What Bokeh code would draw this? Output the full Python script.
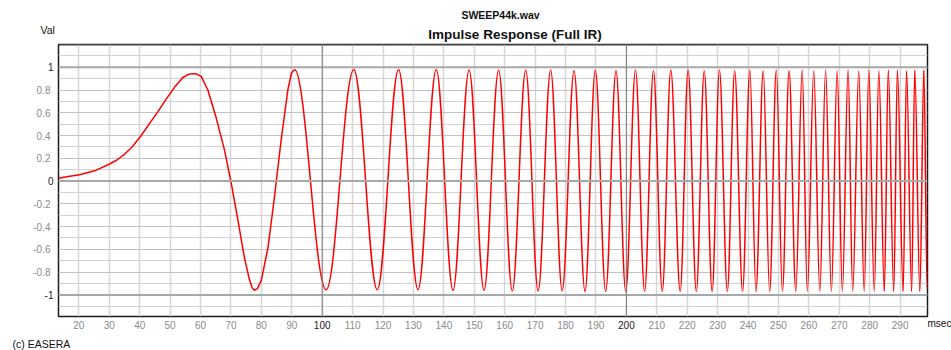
from bokeh.plotting import figure
from bokeh.models import Range1d, FixedTicker, Span, Label, LinearAxis
from bokeh.embed import file_html
from bokeh.resources import INLINE

# --- data (msec, value) ---
# slow onset, read densely
early_t = [13.3, 16.5, 20.2, 25.2, 30.1, 32.5, 35.0, 37.5, 40.5, 43.2, 46.0, 48.7, 51.5,
           54.2, 56.0, 57.2, 58.7, 60.2, 62.4, 65.1, 67.9, 70.1, 72.3, 74.4, 76.1, 77.0,
           77.7, 78.7, 80.0, 82.2, 84.3, 86.5, 88.7, 89.9]
early_v = [0.025, 0.04, 0.056, 0.09, 0.15, 0.185, 0.235, 0.30, 0.40, 0.505, 0.61, 0.72,
           0.826, 0.91, 0.937, 0.944, 0.94, 0.92, 0.80, 0.56, 0.27, -0.02, -0.345, -0.67,
           -0.87, -0.94, -0.96, -0.945, -0.87, -0.58, -0.14, 0.36, 0.80, 0.95]
# later cycles: positive peaks and negative troughs
peak_t = [90.9, 110.4, 125.1, 137.5, 148.3, 158.0, 166.9, 175.1, 182.8, 189.8, 196.6,
          203.0, 208.9, 214.6, 220.3, 225.6, 230.6, 235.6, 240.6, 245.0, 249.3, 253.5,
          257.8, 261.6, 265.5, 269.3, 272.9, 276.4, 279.7, 283.0, 286.1, 289.1, 292.1,
          294.8, 297.8]
peak_v = [0.98, 0.98, 0.98, 0.98, 0.975, 0.975, 0.975, 0.975, 0.97, 0.975, 0.97,
          0.975, 0.97, 0.975, 0.975, 0.97, 0.975, 0.97, 0.975, 0.97, 0.975, 0.97,
          0.975, 0.97, 0.975, 0.97, 0.975, 0.97, 0.975, 0.97, 0.975, 0.975, 0.97,
          0.975, 0.975]
trough_t = [101.3, 118.1, 131.5, 143.0, 153.2, 162.5, 171.0, 178.9, 186.4, 193.2,
            199.8, 206.0, 211.8, 217.7, 223.0, 228.2, 233.2, 238.2, 242.6, 247.1, 251.3,
            255.7, 259.5, 263.6, 267.4, 271.0, 274.4, 278.2, 281.5, 284.8, 287.9, 291.0,
            293.8, 296.5, 298.9]
trough_v = [-0.955, -0.955, -0.955, -0.96, -0.96, -0.965, -0.965, -0.965, -0.97, -0.97,
            -0.97, -0.97, -0.97, -0.97, -0.97, -0.97, -0.97, -0.97, -0.97, -0.97, -0.97,
            -0.97, -0.97, -0.97, -0.97, -0.97, -0.97, -0.97, -0.97, -0.97, -0.97, -0.97,
            -0.97, -0.97, -0.95]

x_ticks = [20, 30, 40, 50, 60, 70, 80, 90, 100, 110, 120, 130, 140, 150, 160, 170, 180,
           190, 200, 210, 220, 230, 240, 250, 260, 270, 280, 290]
y_ticks = [-1, -0.8, -0.6, -0.4, -0.2, 0, 0.2, 0.4, 0.6, 0.8, 1]
y_tick_labels = ["-1", "-0.8", "-0.6", "-0.4", "-0.2", "0", "0.2", "0.4", "0.6", "0.8", "1"]
y_minor = [-1.1, -0.9, -0.7, -0.5, -0.3, -0.1, 0.1, 0.3, 0.5, 0.7, 0.9, 1.1]
dark_x = [100, 200]
dark_y = [-1, 0, 1]
X0, X1 = 13.3, 299.0
Y0, Y1 = -1.19, 1.2

W, H = 951, 350
BL, BR, BT, BB = 58, 24, 44, 34
FW, FH = W - BL - BR, H - BT - BB
p = figure(width=W, height=H, output_backend="svg", toolbar_location=None,
           x_range=Range1d(X0, X1), y_range=Range1d(Y0, Y1),
           min_border_left=BL, min_border_right=BR, min_border_top=BT, min_border_bottom=BB)
p.background_fill_color = "white"
p.border_fill_color = "white"
p.outline_line_color = "#1a1a1a"
p.outline_line_width = 1.5

# grids
p.xgrid.ticker = FixedTicker(ticks=x_ticks)
p.xgrid.grid_line_color = "#d6d6d6"
p.xgrid.grid_line_width = 1.5
p.ygrid.ticker = FixedTicker(ticks=y_ticks, minor_ticks=y_minor)
p.ygrid.grid_line_color = "#c2c2c2"
p.ygrid.grid_line_width = 1
p.ygrid.minor_grid_line_color = "#d2d2d2"
p.ygrid.minor_grid_line_width = 1

for yv in dark_y:
    p.add_layout(Span(location=yv, dimension="width", line_color="#a8a8a8", line_width=2))
for xv in dark_x:
    p.add_layout(Span(location=xv, dimension="height", line_color="#7a7a7a", line_width=1))
# top edge of the frame is drawn grey in the original
p.add_layout(Span(location=Y1, dimension="width", line_color="#6e6e6e", line_width=2))

# axes: inner (default) axes carry the dark labels, outer axes the grey ones,
# pulled back onto the same line with a negative standoff
lab_font = "Liberation Sans"


def style_axis(ax, color, standoff):
    ax.axis_line_color = None
    ax.major_tick_line_color = None
    ax.minor_tick_line_color = None
    ax.major_tick_out = 0
    ax.major_tick_in = 0
    ax.minor_tick_out = 0
    ax.minor_tick_in = 0
    ax.major_label_text_font = lab_font
    ax.major_label_text_font_size = "10px"
    ax.major_label_text_color = color
    ax.major_label_standoff = standoff


gray_x = [v for v in x_ticks if v not in dark_x]
gray_y = [v for v in y_ticks if v not in dark_y]
ylab = dict(zip(y_ticks, y_tick_labels))

xa = p.xaxis[0]
xa.ticker = FixedTicker(ticks=dark_x)
xa.major_label_overrides = {v: str(v) for v in dark_x}
style_axis(xa, "#222222", 4)
xa_g = LinearAxis(ticker=FixedTicker(ticks=gray_x),
                  major_label_overrides={v: str(v) for v in gray_x})
style_axis(xa_g, "#8a8a8a", -11)
p.add_layout(xa_g, "below")

ya = p.yaxis[0]
ya.ticker = FixedTicker(ticks=dark_y)
ya.major_label_overrides = {v: ylab[v] for v in dark_y}
style_axis(ya, "#222222", 5)
ya_g = LinearAxis(ticker=FixedTicker(ticks=gray_y),
                  major_label_overrides={v: ylab[v] for v in gray_y})
style_axis(ya_g, "#8a8a8a", -9)
p.add_layout(ya_g, "left")

# waveform
p.line(early_t + [peak_t[0]], early_v + [peak_v[0]], line_color="#ff0000", line_width=1.5)
ext = sorted(zip(peak_t + trough_t, peak_v + trough_v))
et = [e[0] for e in ext]
ev = [e[1] for e in ext]
a = 0.3634
x0, x1, y0, y1 = et[:-1], et[1:], ev[:-1], ev[1:]
cx0 = [u + a * (w - u) for u, w in zip(x0, x1)]
cx1 = [w - a * (w - u) for u, w in zip(x0, x1)]
p.bezier(x0=x0, y0=y0, x1=x1, y1=y1, cx0=cx0, cy0=y0, cx1=cx1, cy1=y1,
         line_color="#ff0000", line_width=1.5)


# texts outside the frame: labels placed in side panels (not clipped),
# positioned through the plot scales from page pixel positions
def px_x(px):
    return X0 + (px - BL) * (X1 - X0) / FW


def px_y(py):
    return Y1 - (py - BT) * (Y1 - Y0) / FH


def outer_text(txt, px, py, size, side, align="left", bold=False):
    p.add_layout(Label(x=px_x(px), y=px_y(py), text=txt,
                       text_align=align, text_baseline="middle", text_font=lab_font,
                       text_font_size=size, text_font_style="bold" if bold else "normal",
                       text_color="#111111"), side)


outer_text("SWEEP44k.wav", 500, 14, "10.5px", "above", "center", True)
outer_text("Impulse Response (Full IR)", 514.5, 33.5, "13.5px", "above", "center", True)
outer_text("Val", 40, 29.5, "10.5px", "above")
outer_text("msec", 927, 323, "10px", "left")
outer_text("(c) EASERA", 12, 343, "10.5px", "below")

open("out.html", "w").write(file_html(p, INLINE))
